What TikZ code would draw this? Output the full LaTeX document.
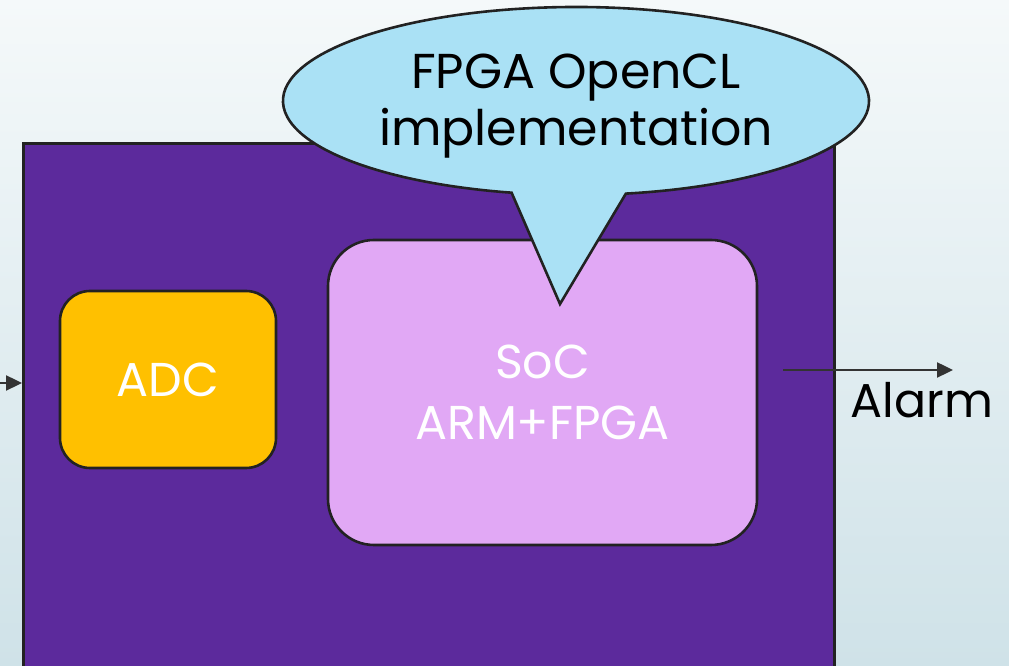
\documentclass[tikz,border=0pt]{standalone}
\usepackage{fontspec}
\setmainfont{Poppins}
\usetikzlibrary{arrows.meta,calc}
\definecolor{bgtop}{HTML}{F5F9FA}
\definecolor{bgbot}{HTML}{CFE2E8}
\definecolor{boardpurple}{HTML}{5C2A9C}
\definecolor{adcorange}{HTML}{FFC000}
\definecolor{soclilac}{HTML}{E1A8F5}
\definecolor{calloutblue}{HTML}{AAE1F5}
\definecolor{edgegray}{HTML}{222222}
\definecolor{arrowgray}{HTML}{333333}
\tikzset{
  blockbox/.style={draw=edgegray, line width=2.6pt, rounded corners=#1, inner sep=0pt, text=white},
  bigtext/.style={font=\fontsize{47.5}{61}\selectfont, align=center, inner sep=0pt},
  sigarrow/.style={draw=arrowgray, line width=2.4pt, -{Triangle[length=16pt,width=15pt]}},
}
\begin{document}
\begin{tikzpicture}[x=1pt,y=1pt]
\useasboundingbox (0,0) rectangle (1009,666);
\clip (0,0) rectangle (1009,666);
\shade[top color=bgtop, bottom color=bgbot] (0,0) rectangle (1009,666);
% board
\node[draw=edgegray, line width=2.6pt, fill=boardpurple, minimum width=811pt, minimum height=540pt, inner sep=0pt, anchor=north west] (board) at (22,524) {};
% ADC
\node[blockbox=30pt, fill=adcorange, minimum width=216pt, minimum height=177pt, bigtext] (adc) at (168,286.5) {ADC};
% SoC
\node[blockbox=46pt, fill=soclilac, minimum width=429pt, minimum height=305pt, bigtext, text=white] (soc) at (542.5,273.5) {SoC\\ARM+FPGA};
% callout
\coordinate (cc) at (576,565);
\coordinate (tip) at (560,362);
\filldraw[fill=calloutblue, draw=edgegray, line width=2.6pt, line join=miter]
  (tip) -- ($(cc)+(-80.2:293pt and 94pt)$)
  arc[start angle=-80.2, end angle=257.3, x radius=293pt, y radius=94pt] -- cycle;
\node[bigtext, font=\fontsize{49}{57}\selectfont, text=black] (callout) at (576,560) {FPGA OpenCL\\implementation};
% signals
\coordinate (inp) at (0,283);
\draw[sigarrow] (inp) -- (inp -| board.west);
\coordinate (outs) at (783,296);
\coordinate (oute) at (953,296);
\draw[sigarrow] (outs) -- (oute);
\node[bigtext, text=black] (alarm) at (922,266) {Alarm};
\end{tikzpicture}
\end{document}
